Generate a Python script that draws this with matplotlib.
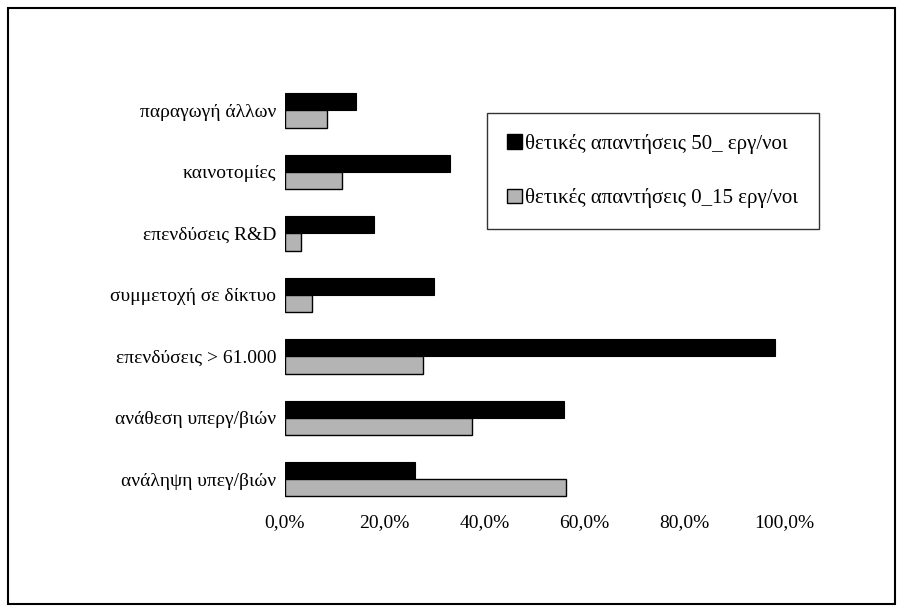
import numpy as np
import matplotlib
matplotlib.use("Agg")
import matplotlib.pyplot as plt
from matplotlib.patches import Rectangle, Patch
from matplotlib.ticker import FuncFormatter

plt.rcParams['font.family'] = ['Liberation Serif', 'DejaVu Serif']

categories = ["παραγωγή άλλων", "καινοτομίες", "επενδύσεις R&D",
              "συμμετοχή σε δίκτυο", "επενδύσεις > 61.000",
              "ανάθεση υπεργ/βιών", "ανάληψη υπεγ/βιών"]
large_firms = [14.2, 33.0, 17.8, 29.8, 98.0, 55.8, 26.0]   # 50_ εργ/νοι
small_firms = [8.4, 11.4, 3.2, 5.4, 27.6, 37.4, 56.2]      # 0_15 εργ/νοι
series_labels = ["θετικές απαντήσεις 50_ εργ/νοι", "θετικές απαντήσεις 0_15 εργ/νοι"]
xticks = [0, 20, 40, 60, 80, 100]

fig = plt.figure(figsize=(9.01, 6.12), dpi=100)
ax = fig.add_axes([0.316, 0.1667, 0.555, 0.703])

y = np.arange(len(categories))
h = 0.28
ax.barh(y - h / 2, large_firms, height=h, color="black", edgecolor="black", linewidth=0.8)
ax.barh(y + h / 2, small_firms, height=h, color="#b4b4b4", edgecolor="black", linewidth=1.0)

ax.set_ylim(len(categories) - 0.5, -0.5)
ax.set_xlim(0, 100)
ax.set_yticks(y)
ax.set_yticklabels(categories)
ax.set_xticks(xticks)
ax.xaxis.set_major_formatter(FuncFormatter(lambda v, p: f"{v:.1f}%".replace(".", ",")))
ax.tick_params(axis="both", length=0, labelsize=14)
ax.tick_params(axis="y", pad=6)
ax.tick_params(axis="x", pad=3)
for s in ax.spines.values():
    s.set_visible(False)

handles = [Patch(facecolor="black", edgecolor="black"),
           Patch(facecolor="#b4b4b4", edgecolor="black")]
leg = fig.legend(handles, series_labels, loc="upper left",
                 bbox_to_anchor=(0.540, 0.815), fontsize=15,
                 frameon=True, fancybox=False, edgecolor="black",
                 handlelength=0.7, handleheight=0.7, handletextpad=0.15,
                 labelspacing=1.65, borderpad=1.0, borderaxespad=0)
leg.get_frame().set_linewidth(1.0)

fig.patches.append(Rectangle((8 / 901, 8 / 612), 887 / 901, 596 / 612,
                             transform=fig.transFigure, fill=False,
                             edgecolor="black", linewidth=1.5))

fig.savefig("out.png", dpi=100)
